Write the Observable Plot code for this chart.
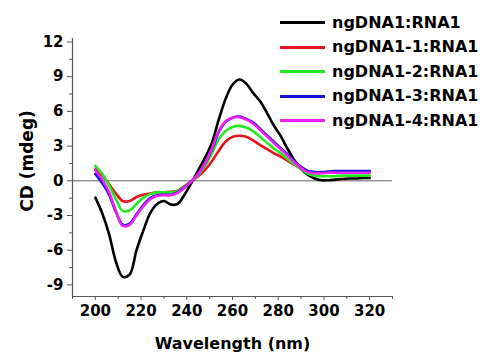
<!DOCTYPE html>
<html>
<head>
<meta charset="utf-8">
<script src="https://cdn.jsdelivr.net/npm/d3@7"></script>
<script src="https://cdn.jsdelivr.net/npm/@observablehq/plot@0.6"></script>
<style>
  html, body { margin: 0; padding: 0; background: #fff; }
  #wrap { position: relative; width: 486px; height: 356px; }
  #legend { position: absolute; left: 280px; top: 10px; font-family: "DejaVu Sans", sans-serif; font-weight: bold; font-size: 16px; }
  .row { position: absolute; left: 0; height: 24px; white-space: nowrap; }
  .sw { position: absolute; left: 0; width: 45px; height: 3px; }
  .lab { position: absolute; left: 52px; line-height: 24px; top: -12px; }
</style>
</head>
<body>
<div id="wrap"><div id="legend"></div></div>
<script>
const wavelength = [200,203,206,209,212,215,218,221,224,227,230,233,236,239,242,245,248,251,254,257,260,263,266,269,272,275,278,281,284,287,290,293,296,299,302,305,308,311,314,317,320];
const seriesNames = ["ngDNA1:RNA1","ngDNA1-1:RNA1","ngDNA1-2:RNA1","ngDNA1-3:RNA1","ngDNA1-4:RNA1"];
const seriesColors = ["#000000","#e8141c","#22e822","#1414d8","#f020f0"];
const cdBlack = [-1.45,-2.8,-4.6,-7.0,-8.3,-8.1,-6.0,-4.3,-2.8,-2.0,-1.75,-2.05,-2.0,-1.2,-0.2,0.9,2.0,3.3,5.3,7.1,8.3,8.75,8.4,7.6,6.9,5.9,4.8,3.9,2.8,1.8,1.0,0.5,0.2,0.05,0.05,0.1,0.15,0.2,0.2,0.25,0.25];
const cdRed = [1.0,0.5,-0.3,-1.1,-1.75,-1.75,-1.4,-1.2,-1.1,-1.0,-1.0,-0.95,-0.85,-0.45,-0.05,0.4,0.95,1.7,2.6,3.4,3.8,3.9,3.8,3.5,3.1,2.75,2.4,2.1,1.75,1.4,1.05,0.8,0.7,0.7,0.75,0.75,0.8,0.8,0.8,0.8,0.8];
const cdGreen = [1.3,0.6,-0.4,-1.6,-2.6,-2.55,-2.0,-1.45,-1.15,-1.0,-1.0,-1.0,-0.9,-0.5,-0.05,0.5,1.3,2.4,3.6,4.3,4.65,4.75,4.6,4.3,3.8,3.3,2.8,2.4,1.9,1.45,1.0,0.6,0.45,0.4,0.4,0.4,0.45,0.45,0.45,0.45,0.45];
const cdBlue = [0.6,-0.2,-1.2,-2.7,-3.8,-3.7,-2.9,-2.1,-1.5,-1.25,-1.2,-1.2,-1.0,-0.55,-0.05,0.6,1.5,2.7,4.2,5.1,5.45,5.55,5.35,5.05,4.5,3.95,3.4,2.85,2.3,1.7,1.2,0.85,0.75,0.75,0.8,0.85,0.85,0.85,0.85,0.85,0.85];
const cdMagenta = [0.9,0.1,-1.0,-2.6,-3.9,-3.8,-3.0,-2.2,-1.6,-1.3,-1.25,-1.25,-1.05,-0.6,-0.05,0.6,1.5,2.8,4.3,5.15,5.45,5.5,5.3,4.95,4.4,3.85,3.3,2.75,2.2,1.6,1.1,0.75,0.65,0.65,0.7,0.7,0.7,0.7,0.7,0.7,0.7];
const xMajorTicks = [200,220,240,260,280,300,320];
const xMinorTicks = [190,210,230,250,270,290,310,330];
const yMajorTicks = [-9,-6,-3,0,3,6,9,12];
const yMinorTicks = [-7.5,-4.5,-1.5,1.5,4.5,7.5,10.5];
const xTitle = "Wavelength (nm)";
const yTitle = "CD (mdeg)";

const allSeries = [cdBlack, cdRed, cdGreen, cdBlue, cdMagenta];
const rows = [];
allSeries.forEach((vals, i) => vals.forEach((v, j) => rows.push({w: wavelength[j], cd: v, s: seriesNames[i]})));

const axisColor = "#555";
const fmt = d => String(d);
const chart = Plot.plot({
  width: 486, height: 356,
  marginLeft: 72, marginRight: 94, marginTop: 38, marginBottom: 60,
  style: {fontFamily: "DejaVu Sans, sans-serif", fontWeight: "bold", fontSize: "15px", color: "#000", background: "transparent"},
  x: {domain: [190, 330]},
  y: {domain: [-10, 12.3]},
  color: {domain: seriesNames, range: seriesColors},
  marks: [
    Plot.ruleY([0], {stroke: "#666", strokeWidth: 1}),
    Plot.ruleX([190], {stroke: axisColor, strokeWidth: 1.2}),
    Plot.ruleY([-10], {stroke: axisColor, strokeWidth: 1.2}),
    Plot.axisY(yMajorTicks, {tickSize: 5, tickPadding: 4, stroke: axisColor, fill: "#000", fontSize: 15, fontWeight: "bold", tickFormat: fmt, label: null}),
    Plot.axisY(yMinorTicks, {tickSize: 3, text: null, stroke: axisColor, label: null}),
    Plot.axisX(xMajorTicks, {tickSize: 4, tickPadding: 5, stroke: axisColor, fill: "#000", fontSize: 15, fontWeight: "bold", tickFormat: fmt, label: null}),
    Plot.axisX(xMinorTicks, {tickSize: 3, text: null, stroke: axisColor, label: null}),
    Plot.text([yTitle], {text: d => d, frameAnchor: "left", rotate: -90, dx: -45, dy: -6.5, lineAnchor: "middle", textAnchor: "middle", fontSize: 17, fontWeight: "bold", fill: "#000"}),
    Plot.text([xTitle], {text: d => d, frameAnchor: "bottom", dy: 47.5, lineAnchor: "middle", textAnchor: "middle", fontSize: 16, fontWeight: "bold", fill: "#000"}),
    Plot.line(rows, {x: "w", y: "cd", z: "s", stroke: "s", strokeWidth: 2.6, curve: "catmull-rom"})
  ]
});
document.getElementById("wrap").prepend(chart);
chart.style.position = "absolute"; chart.style.left = "0"; chart.style.top = "0";

const legend = document.getElementById("legend");
seriesNames.forEach((name, i) => {
  const r = document.createElement("div");
  r.className = "row";
  r.style.top = (12.7 + i * 24.5) + "px";
  const sw = document.createElement("div");
  sw.className = "sw"; sw.style.background = seriesColors[i]; sw.style.top = "-1.5px";
  const lb = document.createElement("div");
  lb.className = "lab"; lb.textContent = name;
  r.appendChild(sw); r.appendChild(lb);
  legend.appendChild(r);
});
</script>
</body>
</html>
